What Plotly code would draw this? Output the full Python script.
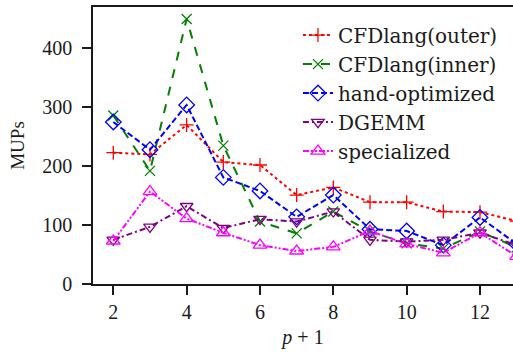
import plotly.graph_objects as go

x_vals = [2, 3, 4, 5, 6, 7, 8, 9, 10, 11, 12, 13]
cfd_outer = [223, 220, 270, 207, 202, 151, 164, 139, 139, 123, 122, 107]
cfd_inner = [286, 192, 450, 235, 106, 86, 123, 89, 69, 60, 89, 62]
hand_opt = [275, 228, 304, 181, 158, 114, 151, 93, 90, 66, 113, 68]
dgemm = [75, 97, 132, 95, 110, 106, 123, 75, 72, 75, 87, 66]
specialized = [73, 157, 111, 87, 66, 56, 63, 90, 68, 53, 87, 47]

names = ["CFDlang(outer)", "CFDlang(inner)", "hand-optimized", "DGEMM", "specialized"]
series = [cfd_outer, cfd_inner, hand_opt, dgemm, specialized]
colors = ["#ff0000", "#008000", "#0000ff", "#800080", "#ff00ff"]
dashes = ["dot", "dash", "6px,3px", "6px,3px,2px,3px", "6px,2px,2px,2px,2px,2px"]
symbols = ["cross-thin-open", "x-thin-open", "diamond-open", "triangle-down-open", "triangle-up-open"]
sizes = [10, 10, 12, 11, 12]

fig = go.Figure()
for i, (n, s) in enumerate(zip(names, series)):
    fig.add_trace(go.Scatter(
        x=x_vals, y=s, name=n, mode="lines+markers",
        legendgroup=f"g{i}",
        line=dict(color=colors[i], width=2, dash=dashes[i]),
        marker=dict(symbol=symbols[i], size=sizes[i], color=colors[i],
                    line=dict(color=colors[i], width=1.3)),
    ))

tick_fam = "Liberation Serif"
leg_fam = "DejaVu Serif"
fig.update_layout(
    width=513, height=352,
    margin=dict(l=93, r=0, t=7, b=68),
    paper_bgcolor="white", plot_bgcolor="white",
    font=dict(family=tick_fam, size=20, color="#1a1a1a"),
    showlegend=True,
    legend=dict(x=0.488, y=0.969, xanchor="left", yanchor="top",
                font=dict(size=20, family=leg_fam, color="#1a1a1a"),
                bgcolor="rgba(255,255,255,0)", traceorder="grouped",
                tracegroupgap=0),
    xaxis=dict(range=[1.446, 12.9], tickvals=[2, 4, 6, 8, 10, 12],
               showline=True, linecolor="#1a1a1a", linewidth=1.5, mirror=True,
               ticks="outside", ticklen=9, tickcolor="#1a1a1a", tickwidth=1.5,
               showgrid=False, zeroline=False, automargin=False,
               title=dict(text="<i>p</i> + 1", font=dict(size=20), standoff=8)),
    yaxis=dict(range=[0, 470.3], tickvals=[0, 100, 200, 300, 400],
               showline=True, linecolor="#1a1a1a", linewidth=1.5, mirror=False,
               ticks="outside", ticklen=9, tickcolor="#1a1a1a", tickwidth=1.5,
               showgrid=False, zeroline=False, automargin=False,
               ticklabelstandoff=6,
               title=dict(text="MUPs", font=dict(size=19), standoff=13)),
)

fig.write_html("out.html", config={"displayModeBar": False},
               post_script="document.body.style.margin='0';document.body.style.overflow='hidden';")
